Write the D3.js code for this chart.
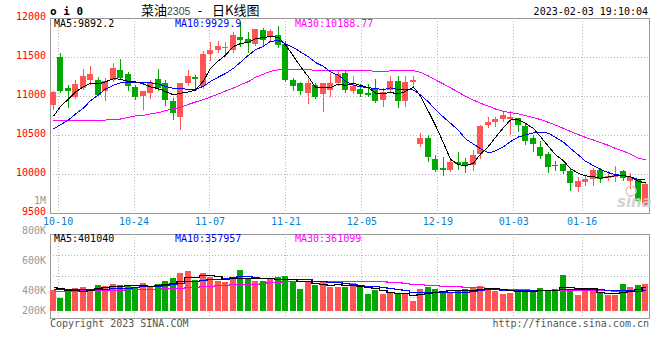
<!DOCTYPE html>
<html>
<head>
<meta charset="utf-8">
<script src="https://cdn.jsdelivr.net/npm/d3@7"></script>
<style>
  body { margin: 0; background: #fff; }
  svg { display: block; font-family: 'DejaVu Sans Mono', monospace; font-size: 10px; }
</style>
</head>
<body>
<svg id="chart" width="660" height="360"></svg>
<script>
// trading days, 09-30 .. 02-03
const dates = ['09-30',
  '10-10','10-11','10-12','10-13','10-14','10-17','10-18','10-19','10-20','10-21',
  '10-24','10-25','10-26','10-27','10-28','10-31','11-01','11-02','11-03','11-04',
  '11-07','11-08','11-09','11-10','11-11','11-14','11-15','11-16','11-17','11-18',
  '11-21','11-22','11-23','11-24','11-25','11-28','11-29','11-30','12-01','12-02',
  '12-05','12-06','12-07','12-08','12-09','12-12','12-13','12-14','12-15','12-16',
  '12-19','12-20','12-21','12-22','12-23','12-26','12-27','12-28','12-29','12-30',
  '01-03','01-04','01-05','01-06','01-09','01-10','01-11','01-12','01-13',
  '01-16','01-17','01-18','01-19','01-20','01-30','01-31','02-01','02-02','02-03'];

const opens = [10880,11500,11102,10991,11102,11209,11205,11060,11201,11329,
  11286,11115,10999,11038,11218,11167,10940,10731,11167,11239,
  11124,11538,11594,11624,11585,11756,11731,11671,11846,11752,
  11786,11671,11201,11167,11034,11137,11026,11081,11167,11295,
  11068,11090,11038,11094,10953,11081,11196,10940,11175,10384,
  10461,10192,10077,10055,10149,10154,10119,10256,10632,10662,
  10709,10709,10718,10619,10461,10350,10256,10119,10128,10042,
  9837,9897,9940,10055,9948,9957,10034,9914,9931,9607];
const highs = [11060,11555,11145,11205,11350,11389,11248,11231,11423,11474,
  11303,11145,11068,11201,11346,11205,10974,11170,11333,11265,
  11573,11692,11701,11688,11820,11949,11820,11862,11872,11859,
  11893,11701,11231,11179,11218,11162,11170,11295,11316,11338,
  11252,11158,11154,11218,11102,11252,11252,11252,11261,10525,
  10496,10248,10213,10196,10282,10205,10303,10625,10726,10726,
  10803,10803,10722,10654,10496,10419,10282,10171,10128,10068,
  9957,9991,10077,10077,10034,10098,10055,10013,9940,9880];
const lows = [10835,11051,10855,10974,11094,11154,11008,10953,11188,11218,
  11073,10961,10837,10974,11081,10880,10709,10581,11145,11102,
  11102,11466,11560,11508,11560,11637,11568,11658,11645,11701,
  11632,11196,11081,11026,10910,10974,10812,10996,11145,11051,
  11038,10996,10996,10923,10876,11068,10855,10867,11154,10363,
  10171,10034,9983,10042,10068,10025,10055,10205,10598,10619,
  10675,10517,10555,10384,10299,10205,10025,10055,10008,9799,
  9786,9863,9854,9897,9919,9906,9927,9820,9628,9600];
const closes = [11050,11068,11060,11158,11256,11282,11017,11197,11359,11226,
  11132,10987,11064,11179,11102,10953,10778,11167,11261,11222,
  11538,11594,11641,11628,11778,11718,11679,11859,11722,11838,
  11650,11209,11132,11060,11167,10987,11167,11162,11282,11081,
  11124,11030,11017,10932,11051,11196,10940,11179,11209,10461,
  10213,10055,10055,10154,10128,10119,10248,10619,10662,10701,
  10752,10726,10632,10427,10384,10226,10094,10098,10042,9889,
  9914,9936,10047,9940,9978,9991,9948,9957,9658,9876];

const ma5 = [10740,10867,10961,11051,11118,11165,11155,11182,11222,11216,
  11186,11180,11154,11118,11093,11057,11015,11036,11052,11076,
  11193,11356,11451,11525,11636,11672,11689,11732,11751,11763,
  11750,11656,11510,11378,11244,11111,11103,11109,11153,11136,
  11163,11136,11107,11037,11031,11045,11027,11060,11115,10997,
  10800,10623,10399,10188,10121,10102,10141,10254,10355,10470,
  10596,10692,10695,10648,10584,10479,10353,10246,10169,10070,
  10007,9976,9966,9945,9963,9978,9981,9963,9906,9886];
const ma10 = [10577,10632,10692,10769,10846,10940,11017,11090,11137,11167,
  11176,11167,11168,11170,11155,11122,11098,11095,11085,11085,
  11125,11186,11244,11288,11356,11433,11523,11592,11638,11700,
  11711,11672,11621,11565,11503,11430,11379,11309,11265,11190,
  11137,11119,11108,11095,11083,11104,11082,11083,11076,11014,
  10923,10825,10729,10651,10559,10451,10382,10326,10271,10295,
  10349,10416,10474,10501,10527,10538,10522,10470,10408,10327,
  10243,10164,10106,10057,10016,9993,9978,9964,9926,9925];
const ma30 = [10692,10690,10689,10688,10688,10688,10690,10692,10695,10705,
  10727,10744,10752,10770,10786,10812,10837,10855,10893,10923,
  10953,10987,11026,11064,11102,11145,11184,11240,11280,11317,
  11337,11342,11344,11341,11338,11328,11333,11332,11329,11325,
  11324,11326,11324,11316,11314,11322,11328,11328,11326,11301,
  11257,11206,11153,11104,11049,10995,10948,10906,10871,10833,
  10803,10787,10770,10749,10723,10698,10662,10627,10585,10545,
  10505,10469,10436,10403,10367,10327,10294,10254,10202,10182];

// volume, thousands of lots
const volumes = [365,231,365,395,412,383,452,435,470,452,
  452,412,487,412,470,522,574,661,696,539,
  661,597,522,504,557,713,557,522,522,557,
  591,609,504,383,522,452,522,423,423,423,
  482,423,296,365,296,308,308,296,174,383,
  423,383,336,336,365,383,395,435,405,353,
  296,318,383,353,365,405,353,383,626,353,
  278,353,353,318,278,278,470,412,452,470];
const volMa5 = [423,394,365,365,354,357,401,415,430,438,
  452,444,455,443,447,461,493,528,585,598,
  626,631,603,565,568,579,571,571,574,574,
  550,560,557,529,522,494,477,460,468,449,
  455,435,409,398,372,338,315,315,276,294,
  317,332,340,372,369,361,363,383,397,394,
  377,361,351,341,343,365,372,372,426,424,
  399,399,393,331,316,316,339,351,378,416];
const volMa10 = [377,378,380,382,384,386,389,391,393,396,
  405,423,435,437,443,456,469,491,514,523,
  543,562,565,575,583,602,601,587,569,571,
  564,565,564,552,548,522,518,509,499,485,
  474,456,435,433,411,396,375,362,337,333,
  327,323,327,324,331,339,347,361,384,381,
  369,362,367,369,369,371,367,361,384,384,
  382,385,382,379,370,357,369,372,355,366];
const volMa30 = [354,354,354,354,359,359,365,365,368,371,
  374,377,383,385,388,394,400,406,412,417,
  429,435,452,458,464,470,475,478,485,497,
  504,517,521,521,525,527,529,529,527,526,
  527,528,521,520,514,507,498,486,468,463,
  455,448,442,436,430,419,414,411,407,400,
  390,380,376,375,370,369,363,362,368,366,
  359,357,359,357,357,356,361,365,374,377];

const priceTicks = [9500, 10000, 10500, 11000, 11500, 12000];
const dateTicks = ['10-10','10-24','11-07','11-21','12-05','12-19','01-03','01-16'];
const volTicks = ['1M','800K','600K','400K','200K'];
const maLabels = ['MA5:9892.2', 'MA10:9929.9', 'MA30:10188.77'];
const volMaLabels = ['MA5:401040', 'MA10:357957', 'MA30:361099'];
const maColors = ['#000000', '#0000ff', '#ff00ff'];

const up = '#ff5555', down = '#00a800';
const left = 50, right = 650;
const priceTop = 18, priceBottom = 213;
const volTop = 234, volBottom = 318, volBase = 311;

const svg = d3.select('#chart');
svg.append('rect').attr('width', 660).attr('height', 360).attr('fill', '#fff');

const x = d3.scaleBand().domain(dates).range([left, right]);
const gx = d3.scalePoint().domain(dates).range([left, right]);
const y = d3.scaleLinear().domain([9500, 12000]).range([priceBottom, priceTop]);
const yVol = d3.scaleLinear().domain([0, 800]).range([volBase, volBase - 46]);
const cx = d => Math.floor(x(d)) + 3;

const rows = dates.map((d, i) => ({
  date: d, open: opens[i], high: highs[i], low: lows[i], close: closes[i], vol: volumes[i]
}));
const colorOf = r => r.close >= r.open ? up : down;

// grid
const grid = svg.append('g').attr('stroke', '#b4b4b4').attr('stroke-dasharray', '1,2')
  .attr('shape-rendering', 'crispEdges');
grid.selectAll('.hp').data(priceTicks.slice(1, -1)).enter().append('line')
  .attr('x1', left).attr('x2', right)
  .attr('y1', d => Math.round(y(d)) + 0.5).attr('y2', d => Math.round(y(d)) + 0.5);
grid.selectAll('.hv').data([1, 2, 3]).enter().append('line')
  .attr('x1', left).attr('x2', right)
  .attr('y1', k => Math.round(volTop + (volBottom - volTop) * k / 4) + 0.5)
  .attr('y2', k => Math.round(volTop + (volBottom - volTop) * k / 4) + 0.5);
[[priceTop, priceBottom], [volTop, volBottom]].forEach(([a, b]) => {
  grid.append('g').selectAll('line').data(dateTicks).enter().append('line')
    .attr('x1', d => Math.round(gx(d)) + 0.5).attr('x2', d => Math.round(gx(d)) + 0.5)
    .attr('y1', a).attr('y2', b);
});

// frames
svg.append('rect').attr('x', left + 0.5).attr('y', priceTop + 0.5)
  .attr('width', right - left - 1).attr('height', priceBottom - priceTop)
  .attr('fill', 'none').attr('stroke', '#999').attr('shape-rendering', 'crispEdges');
svg.append('rect').attr('x', left + 0.5).attr('y', volTop + 0.5)
  .attr('width', right - left - 1).attr('height', volBottom - volTop)
  .attr('fill', 'none').attr('stroke', '#999').attr('shape-rendering', 'crispEdges');

// candles
const candles = svg.append('g').attr('shape-rendering', 'crispEdges');
candles.selectAll('line').data(rows).enter().append('line')
  .attr('x1', d => cx(d.date) + 0.5).attr('x2', d => cx(d.date) + 0.5)
  .attr('y1', d => Math.round(y(d.high))).attr('y2', d => Math.round(y(d.low)) + 1)
  .attr('stroke', colorOf);
candles.selectAll('rect').data(rows).enter().append('rect')
  .attr('x', d => Math.floor(x(d.date)))
  .attr('width', 6)
  .attr('y', d => Math.round(y(Math.max(d.open, d.close))))
  .attr('height', d => Math.max(1, Math.round(y(Math.min(d.open, d.close))) - Math.round(y(Math.max(d.open, d.close)))))
  .attr('fill', colorOf);

// price moving averages
const priceLine = d3.line().x((v, i) => cx(dates[i]) + 0.5).y(v => y(v));
[ma30, ma10, ma5].forEach((s, k) => {
  svg.append('path').datum(s).attr('d', priceLine)
    .attr('fill', 'none').attr('stroke', maColors[2 - k]).attr('stroke-width', 1)
    .attr('shape-rendering', 'crispEdges');
});

// volume bars
svg.append('g').attr('shape-rendering', 'crispEdges')
  .selectAll('rect').data(rows).enter().append('rect')
  .attr('x', d => Math.floor(x(d.date)))
  .attr('width', 6)
  .attr('y', d => Math.round(yVol(d.vol)))
  .attr('height', d => volBase - Math.round(yVol(d.vol)))
  .attr('fill', colorOf);

const volLine = d3.line().curve(d3.curveStep).x((v, i) => cx(dates[i]) + 0.5).y(v => Math.round(yVol(v)) + 0.5);
[volMa30, volMa10, volMa5].forEach((s, k) => {
  svg.append('path').datum(s).attr('d', volLine)
    .attr('fill', 'none').attr('stroke', maColors[2 - k]).attr('stroke-width', 1.3)
    .attr('shape-rendering', 'crispEdges');
});

// price axis labels
svg.append('g').attr('transform', `translate(${left},0)`)
  .call(d3.axisLeft(y).tickValues(priceTicks).tickSize(0).tickPadding(4).tickFormat(d3.format('d')))
  .call(g => g.select('.domain').remove())
  .attr('font-family', "'DejaVu Sans Mono', monospace").attr('font-size', 10)
  .selectAll('text').attr('fill', '#ff0000').attr('y', -2);

// date labels
svg.append('g').attr('transform', `translate(0,${priceBottom})`)
  .call(d3.axisBottom(gx).tickValues(dateTicks).tickSize(0).tickPadding(0))
  .call(g => g.select('.domain').remove())
  .attr('font-family', "'DejaVu Sans Mono', monospace").attr('font-size', 10)
  .selectAll('text').attr('fill', '#0a7fd0').attr('y', 8).attr('dy', '0.35em');

// volume labels
const vy = d3.scalePoint().domain(volTicks).range([200, 321]);
svg.append('g').selectAll('text').data(volTicks).enter().append('text')
  .attr('x', 46).attr('y', d => Math.min(vy(d), 310)).attr('dy', '0.35em')
  .attr('text-anchor', 'end').attr('fill', '#999').text(d => d);

// legends
const legendX = [54, 175, 295];
maLabels.forEach((t, k) => {
  svg.append('text').attr('x', legendX[k]).attr('y', 27).attr('fill', maColors[k]).text(t);
});
volMaLabels.forEach((t, k) => {
  svg.append('text').attr('x', legendX[k]).attr('y', 242).attr('fill', maColors[k]).text(t);
});

// header
svg.append('text').attr('x', 50).attr('y', 15).attr('font-weight', 'bold')
  .attr('font-size', 11).attr('fill', '#000').text('o i 0');
const title = svg.append('g').attr('font-family', "'Noto Sans CJK SC', sans-serif").attr('fill', '#000');
title.append('text').attr('x', 141).attr('y', 15).attr('font-size', 13).text('菜油');
title.append('text').attr('x', 167).attr('y', 14.5).attr('font-size', 10.5)
  .attr('font-family', "'Liberation Sans', sans-serif").attr('fill', '#444').text('2305');
title.append('text').attr('x', 200).attr('y', 15).attr('font-size', 13).attr('text-anchor', 'middle').text('-');
title.append('text').attr('x', 212).attr('y', 15).attr('font-size', 13).text('日K线图');
svg.append('text').attr('x', 648).attr('y', 15).attr('text-anchor', 'end').attr('fill', '#000')
  .text('2023-02-03 19:10:04');

// watermark
svg.append('circle').attr('cx', 631).attr('cy', 191).attr('r', 5)
  .attr('fill', 'none').attr('stroke', '#f2c4c4').attr('stroke-width', 1.5);
svg.append('text').attr('x', 617).attr('y', 207).attr('font-family', "'DejaVu Sans', sans-serif")
  .attr('font-size', 15).attr('font-weight', 'bold').attr('font-style', 'italic')
  .attr('fill', '#cfcfcf').attr('opacity', 0.9).text('sina');

// footer
svg.append('text').attr('x', 50).attr('y', 327).attr('fill', '#555').text('Copyright 2023 SINA.COM');
svg.append('text').attr('x', 649).attr('y', 327).attr('text-anchor', 'end').attr('fill', '#555')
  .text('http://finance.sina.com.cn');
</script>
</body>
</html>
